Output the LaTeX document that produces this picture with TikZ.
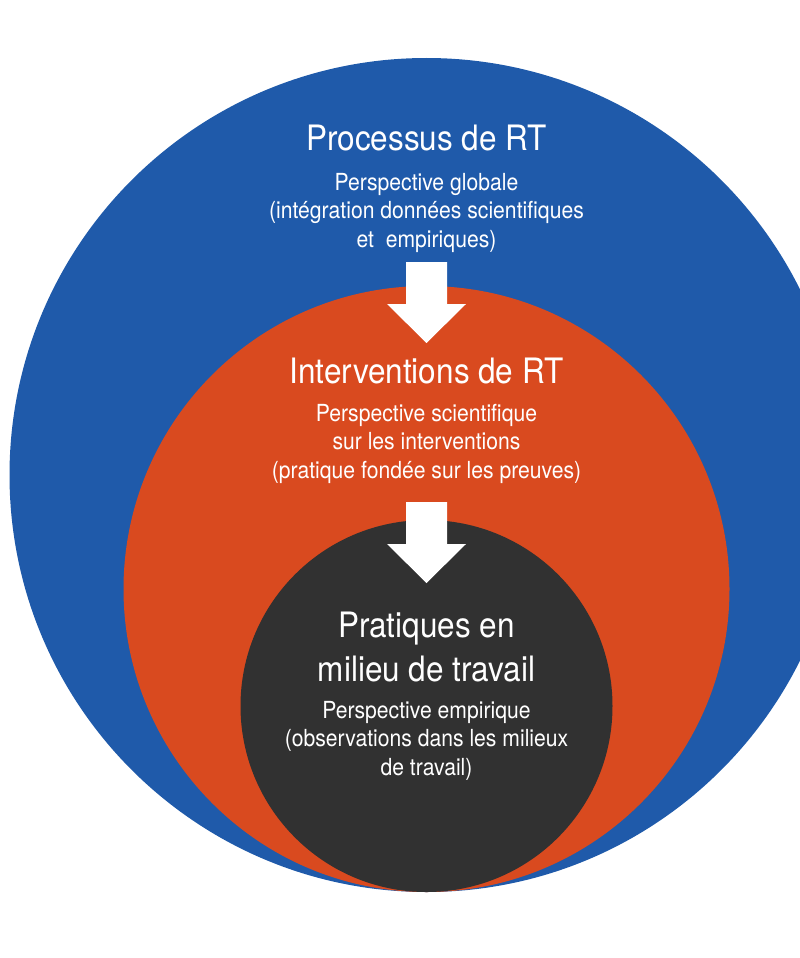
\documentclass[tikz,border=0pt]{standalone}
\usepackage{fontspec}
\setmainfont{TeX Gyre Heros}[FakeStretch=0.9]
\usepackage{xcolor}
\usepackage{tikz}
\usetikzlibrary{positioning,calc}
\definecolor{clrProc}{HTML}{1F5AAA}
\definecolor{clrInter}{HTML}{D94A1F}
\definecolor{clrPrat}{HTML}{313131}
\tikzset{
  ring/.style={circle, inner sep=0pt, draw=none},
  ttl/.style={anchor=base, align=center, text=white,
    font=\fontsize{35}{44}\selectfont},
  sub/.style={anchor=base, align=center, text=white,
    font=\fontsize{23.5}{28.5}\selectfont},
  blockarrow/.style={fill=white, draw=none},
}

\begin{document}
\begin{tikzpicture}[x=1pt, y=-1pt]
% Raster in Bildpunkten: x nach rechts, y nach unten.
% Mehrzeilige Knoten sitzen mit "base" auf der letzten Zeile.
\useasboundingbox (0,0) rectangle (800,958);

\def\cx{426.5}

% ── die drei Kreise ───────────────────────────────────────────────────────
\node[ring, fill=clrProc, minimum size=834pt] (proc) at (\cx, 475) {};
\node[ring, fill=clrInter, minimum size=606pt] (inter) at (\cx, 589) {};
\node[ring, fill=clrPrat, minimum size=372pt] (prat) at (\cx, 706) {};

% ── Processus ─────────────────────────────────────────────────────────────
\node[ttl] (tProc) at (\cx, 150) {Processus de RT};
\node[sub] (sProc) at (\cx, 247)
  {Perspective globale\\(intégration données scientifiques\\et\ \ empiriques)};

% ── Interventions ─────────────────────────────────────────────────────────
\node[ttl] (tInter) at (\cx, 383) {Interventions de RT};
\node[sub] (sInter) at (\cx, 478)
  {Perspective scientifique\\sur les interventions\\(pratique fondée sur les preuves)};

% ── Pratiques ─────────────────────────────────────────────────────────────
\node[ttl] (tPrat) at (\cx, 681) {Pratiques en\\milieu de travail};
\node[sub] (sPrat) at (\cx, 775)
  {Perspective empirique\\(observations dans les milieux\\de travail)};

% ── Blockpfeile ───────────────────────────────────────────────────────────
\coordinate (aA) at (\cx, 262);
\coordinate (aB) at (\cx, 502);
\foreach \a in {aA, aB}{
  \fill[blockarrow] (\a) ++(-20.5,0) -- ++(41,0) -- ++(0,42) -- ++(19,0)
    -- ++(-39.5,39) -- ++(-39.5,-39) -- ++(19,0) -- cycle;
}

\end{tikzpicture}
\end{document}
